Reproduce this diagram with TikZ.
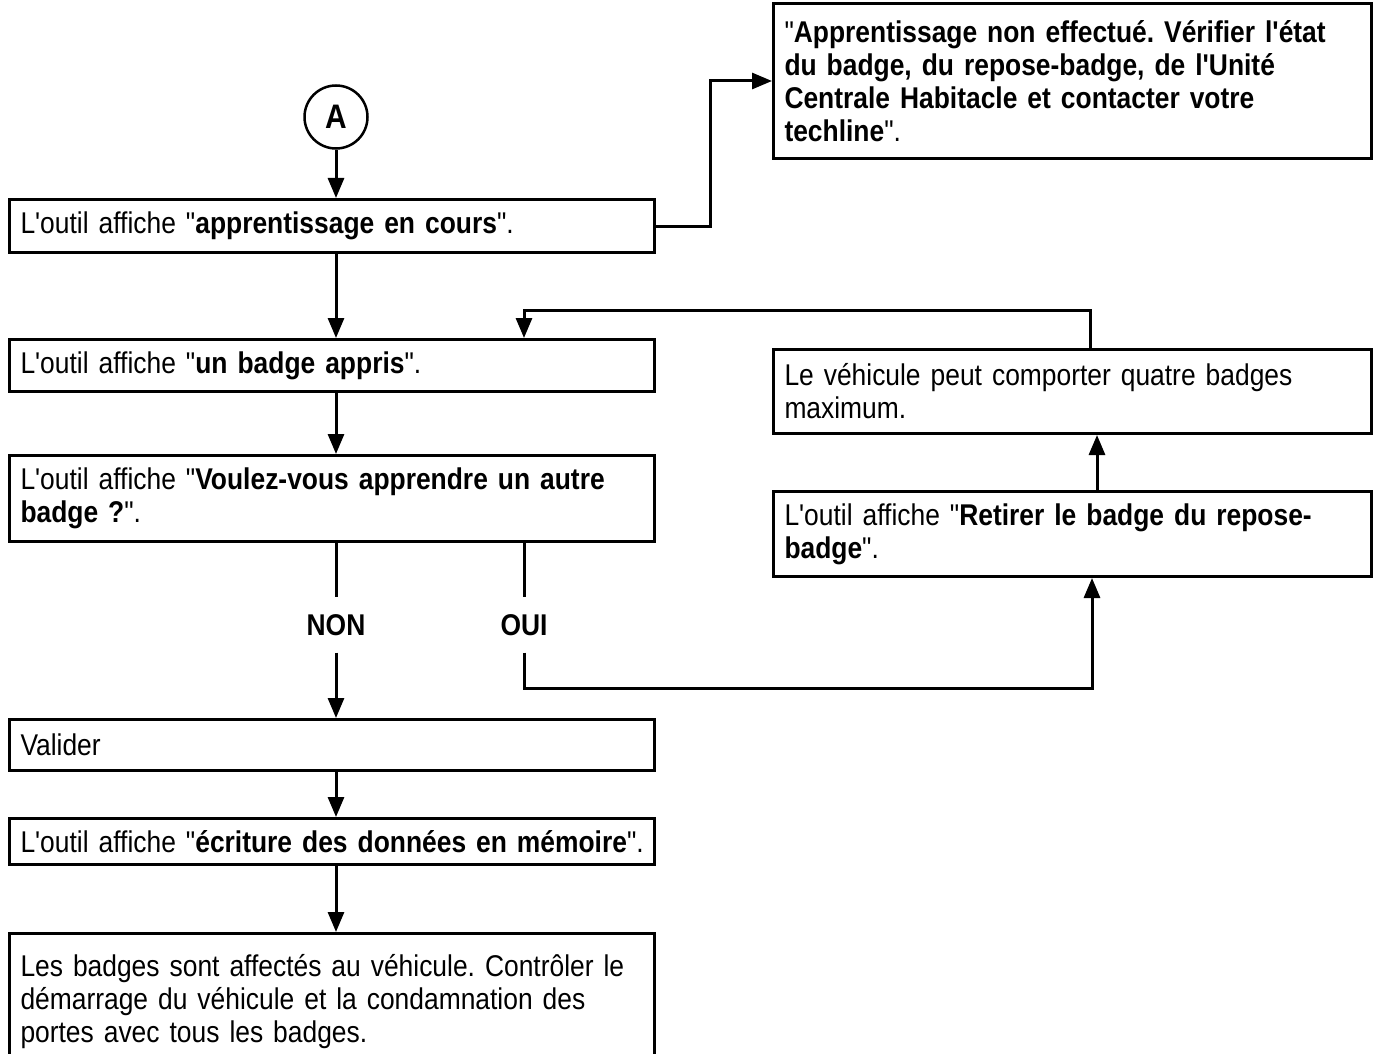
\documentclass[tikz,border=0pt]{standalone}
\usepackage{fontspec}
\newfontfamily\arialf{Liberation Sans}[FakeStretch=0.88,WordSpace=0.85]
\usetikzlibrary{arrows.meta}
\begin{document}
\frenchspacing
\begin{tikzpicture}[x=1pt,y=-1pt,
  box/.style={draw, line width=3pt, rectangle, anchor=north west, inner xsep=11pt, inner ysep=0pt,
    align=left, font=\arialf\fontsize{30}{33}\selectfont\frenchspacing},
  lbl/.style={inner sep=0pt, minimum height=55pt, font=\arialf\bfseries\fontsize{30}{33}\selectfont},
  conn/.style={line width=3pt},
  arr/.style={line width=3pt, -{Triangle[width=16pt,length=20pt]}}]
\useasboundingbox (0,0) rectangle (1377,1054);
\clip (0,0) rectangle (1377,1054);
% left column
\node[circle, draw, line width=2.5pt, minimum size=63pt, inner sep=0pt,
  font=\arialf\bfseries\fontsize{34}{34}\selectfont] (A) at (336,117) {A};
\node[box, minimum width=645pt, text width=623pt, minimum height=53pt] (b1) at (8,198)
  {\mbox{L'outil affiche "\textbf{apprentissage en cours}".}};
\node[box, minimum width=645pt, text width=623pt, minimum height=52pt] (b2) at (8,338)
  {\mbox{L'outil affiche "\textbf{un badge appris}".}};
\node[box, minimum width=645pt, text width=623pt, minimum height=86pt] (b3) at (8,454)
  {\mbox{L'outil affiche "\textbf{Voulez-vous apprendre un autre}}\\\mbox{\textbf{badge ?}".}};
\node[box, minimum width=645pt, text width=623pt, minimum height=51pt] (b4) at (8,718)
  {\mbox{Valider}};
\node[box, minimum width=645pt, text width=623pt, minimum height=46pt] (b5) at (8,817)
  {\mbox{L'outil affiche "\textbf{écriture des données en mémoire}".}};
\node[box, minimum width=645pt, text width=623pt, minimum height=136pt] (b6) at (8,932)
  {\mbox{Les badges sont affectés au véhicule. Contrôler le}\\\mbox{démarrage du véhicule et la condamnation des}\\\mbox{portes avec tous les badges.}};
% right column
\node[box, minimum width=598pt, text width=576pt, minimum height=155pt] (tr) at (772,2)
  {\mbox{"\textbf{Apprentissage non effectué. Vérifier l'état}}\\\mbox{\textbf{du badge, du repose-badge, de l'Unité}}\\\mbox{\textbf{Centrale Habitacle et contacter votre}}\\\mbox{\textbf{techline}".}};
\node[box, minimum width=598pt, text width=576pt, minimum height=84pt] (veh) at (772,348)
  {\mbox{Le véhicule peut comporter quatre badges}\\\mbox{maximum.}};
\node[box, minimum width=598pt, text width=576pt, minimum height=85pt] (ret) at (772,490)
  {\mbox{L'outil affiche "\textbf{Retirer le badge du repose-}}\\\mbox{\textbf{badge}".}};
% labels
\node[lbl] (non) at (336,625) {NON};
\node[lbl] (oui) at (524,625) {OUI};
% helper x positions
\coordinate (inx) at (524,0);
\coordinate (loopx) at (1090,0);
\coordinate (upx) at (1097,0);
\coordinate (ouix) at (1092,0);
% connectors
\draw[arr] (A.south) -- (A.south |- b1.north);
\draw[arr] (b1.south -| A.south) -- (b2.north -| A.south);
\draw[arr] (b2.south -| A.south) -- (b3.north -| A.south);
\draw[conn] (b3.south -| non.north) -- (non.north);
\draw[arr] (non.south) -- (non.south |- b4.north);
\draw[arr] (b4.south -| A.south) -- (b5.north -| A.south);
\draw[arr] (b5.south -| A.south) -- (b6.north -| A.south);
\draw[arr] (b1.east) -| ([xshift=-62pt]tr.west) -- (tr.west);
\draw[arr] (loopx |- veh.north) -- ++(0,-38) -| (inx |- b2.north);
\draw[arr] (upx |- ret.north) -- (upx |- veh.south);
\draw[conn] (b3.south -| oui.north) -- (oui.north);
\draw[arr] (oui.south) -- ++(0,36) -| (ouix |- ret.south);
\end{tikzpicture}
\end{document}
